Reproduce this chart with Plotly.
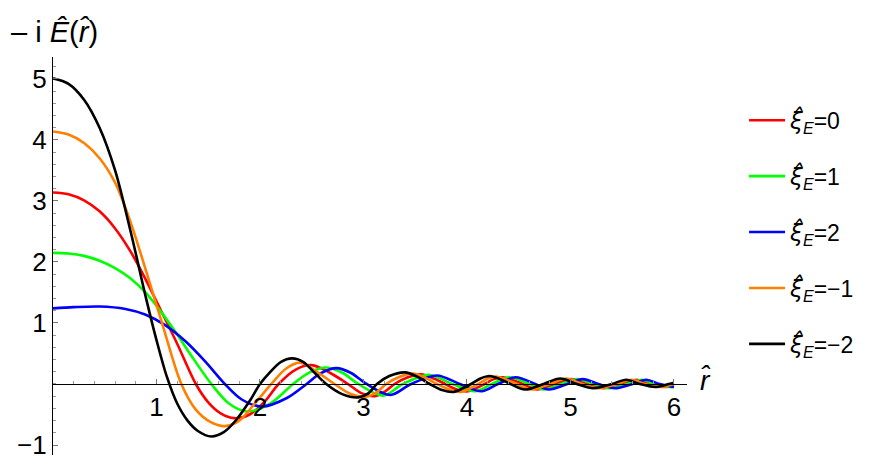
import numpy as np
import plotly.graph_objects as go

# ---- data ----
r_red = [0, 0.15, 0.3, 0.45, 0.6, 0.75, 0.9, 1.05, 1.2, 1.38, 1.5, 1.62, 1.75, 1.9, 2.05, 2.18,
         2.35, 2.5, 2.68, 2.85, 2.98, 3.11, 3.21, 3.30, 3.43, 3.56, 3.68, 3.79, 3.9, 4.01, 4.10, 4.17,
         4.26, 4.35, 4.45, 4.54, 4.68, 4.85, 5.01, 5.17, 5.32, 5.50, 5.64, 5.77, 5.91, 6.0]
v_red = [3.14, 3.11, 3.01, 2.83, 2.55, 2.17, 1.70, 1.18, 0.66, 0.0, -0.30, -0.48, -0.56, -0.50,
         -0.28, 0.0, 0.24, 0.31, 0.18, 0.0, -0.15, -0.20, -0.12, 0.0, 0.11, 0.16, 0.09, 0.0, -0.09, -0.12,
         -0.06, 0.0, 0.08, 0.11, 0.06, 0.0, -0.09, 0.0, 0.08, 0.0, -0.07, 0.0, 0.07, 0.0, -0.05, -0.03]

r_green = [0, 0.15, 0.3, 0.45, 0.6, 0.75, 0.9, 1.05, 1.2, 1.35, 1.53, 1.7, 1.87, 2.1,
           2.32, 2.48, 2.64, 2.8, 2.95, 3.19, 3.38, 3.63, 3.86, 4.08, 4.24, 4.41, 4.60, 4.74, 4.91,
           5.07, 5.22, 5.38, 5.55, 5.69, 5.81, 5.96, 6.0]
v_green = [2.15, 2.14, 2.10, 2.02, 1.90, 1.73, 1.49, 1.17, 0.81, 0.43, 0.0, -0.32,
           -0.45, -0.32, 0.0, 0.19, 0.27, 0.18, 0.0, -0.19, 0.0, 0.15, 0.0, -0.12, 0.0, 0.11, 0.0,
           -0.09, 0.0, 0.08, 0.0, -0.07, 0.0, 0.07, 0.0, -0.05, -0.05]

r_blue = [0, 0.2, 0.45, 0.7, 0.89, 1.08, 1.28, 1.47, 1.66, 1.82, 2.02, 2.26, 2.45, 2.58, 2.74, 2.88,
          3.03, 3.26, 3.46, 3.71, 3.93, 4.14, 4.30, 4.47, 4.66, 4.79, 4.97, 5.12, 5.27, 5.43, 5.60,
          5.73, 5.86, 6.0]
v_blue = [1.24, 1.26, 1.27, 1.23, 1.14, 0.97, 0.70, 0.37, 0.0, -0.25, -0.37, -0.23, 0.0, 0.17, 0.26,
          0.18, 0.0, -0.18, 0.0, 0.14, 0.0, -0.12, 0.0, 0.11, 0.0, -0.09, 0.0, 0.08, 0.0, -0.07, 0.0,
          0.07, 0.0, -0.05]

r_orange = [0, 0.15, 0.3, 0.45, 0.6, 0.75, 0.9, 1.05, 1.24, 1.38, 1.52, 1.66, 1.8, 1.95,
            2.11, 2.25, 2.39, 2.55, 2.72, 2.87, 3.03, 3.13, 3.22, 3.35, 3.48, 3.6, 3.71, 3.83, 3.94,
            4.03, 4.11, 4.20, 4.28, 4.38, 4.48, 4.62, 4.80, 4.96, 5.11, 5.27, 5.45, 5.59, 5.72, 5.87, 6.0]
v_orange = [4.14, 4.09, 3.95, 3.70, 3.30, 2.65, 1.85, 1.02, 0.0, -0.42, -0.62, -0.69,
            -0.60, -0.32, 0.0, 0.25, 0.35, 0.20, 0.0, -0.16, -0.21, -0.13, 0.0, 0.12, 0.17, 0.10, 0.0,
            -0.09, -0.13, -0.07, 0.0, 0.09, 0.12, 0.07, 0.0, -0.09, 0.0, 0.09, 0.0, -0.07, 0.0, 0.07,
            0.0, -0.05, 0.0]

r_black = [0, 0.15, 0.3, 0.45, 0.6, 0.75, 0.9, 1.0, 1.1, 1.2, 1.3, 1.4, 1.53, 1.65, 1.77,
           1.9, 2.0, 2.1, 2.2, 2.31, 2.42, 2.53, 2.64, 2.8, 2.95, 3.05, 3.13, 3.25, 3.40, 3.52, 3.64,
           3.76, 3.87, 3.96, 4.04, 4.13, 4.22, 4.32, 4.42, 4.56, 4.74, 4.90, 5.06, 5.22, 5.40, 5.54,
           5.67, 5.82, 5.95, 6.0]
v_black = [5.01, 4.92, 4.66, 4.20, 3.50, 2.50, 1.40, 0.72, 0.12, -0.32, -0.60, -0.77, -0.86,
           -0.79, -0.59, -0.28, 0.0, 0.20, 0.36, 0.42, 0.36, 0.18, 0.0, -0.17, -0.22, -0.15, 0.0, 0.13,
           0.19, 0.12, 0.0, -0.10, -0.13, -0.07, 0.0, 0.09, 0.13, 0.08, 0.0, -0.09, 0.0, 0.09, 0.0,
           -0.07, 0.0, 0.07, 0.0, -0.05, 0.0, 0.02]

XI = "<span style=\"font-family:'DejaVu Sans'\"><i>ξ̂</i></span><sub><i>E</i></sub>"
series_names = [XI + "=0", XI + "=1", XI + "=2", XI + "=−1", XI + "=−2"]
series_r = [r_red, r_green, r_blue, r_orange, r_black]
series_v = [v_red, v_green, v_blue, v_orange, v_black]
series_colors = ["#FF0000", "#00FF00", "#0000FF", "#FF8000", "#000000"]

x_ticks = [1, 2, 3, 4, 5, 6]
x_ticklabels = ["1", "2", "3", "4", "5", "6"]
y_ticks = [-1, 1, 2, 3, 4, 5]
y_ticklabels = ["−1", "1", "2", "3", "4", "5"]

X_RANGE = [0, 6.126]
Y_RANGE = [-1.164, 5.36]

FONT = "Liberation Sans, Arial, sans-serif"

fig = go.Figure()
for i, (name, rr, vv, col) in enumerate(zip(series_names, series_r, series_v, series_colors)):
    fig.add_trace(go.Scatter(
        x=rr, y=vv, mode="lines", name=name,
        line=dict(color=col, width=2.6, shape="spline", smoothing=0.9),
        legendgroup="g%d" % i, hoverinfo="skip"))

xpos = (0 - Y_RANGE[0]) / (Y_RANGE[1] - Y_RANGE[0])

# the page adds an 8px body margin, so the figure is 8px smaller than the window
fig.update_layout(
    width=876, height=456,
    margin=dict(l=45, r=197, t=49, b=9, autoexpand=False),
    paper_bgcolor="white", plot_bgcolor="white",
    font=dict(family=FONT, color="black"),
    showlegend=True,
    legend=dict(
        x=1.09, y=0.895, xanchor="left", yanchor="top",
        font=dict(size=23, family=FONT),
        tracegroupgap=23, traceorder="grouped",
        bgcolor="rgba(0,0,0,0)", itemwidth=36),
    xaxis=dict(
        range=X_RANGE, anchor="free", position=xpos, automargin=False,
        showgrid=False, zeroline=False,
        showline=True, linecolor="black", linewidth=1.3,
        tickmode="array", tickvals=x_ticks, ticktext=x_ticklabels,
        ticks="inside", ticklen=5, tickwidth=1, tickcolor="#777777",
        tickfont=dict(size=26, family=FONT),
        minor=dict(tickmode="array", tickvals=list(np.round(np.arange(0.2, 6.1, 0.2), 2)),
                   ticks="inside", ticklen=3, tickwidth=1, tickcolor="#999999", showgrid=False),
    ),
    yaxis=dict(
        range=Y_RANGE, automargin=False,
        showgrid=False, zeroline=False,
        showline=True, linecolor="black", linewidth=1.3,
        tickmode="array", tickvals=y_ticks, ticktext=y_ticklabels,
        ticks="inside", ticklen=5, tickwidth=1, tickcolor="#777777",
        tickfont=dict(size=26, family=FONT),
        minor=dict(tickmode="array", tickvals=list(np.round(np.arange(-1.0, 5.31, 0.2), 2)),
                   ticks="inside", ticklen=3, tickwidth=1, tickcolor="#999999", showgrid=False),
    ),
)

fig.add_annotation(
    text="– i <i>Ê</i>(<i>r̂</i>)", xref="paper", yref="paper",
    x=-44 / 634, y=(455 - 32) / 398, xanchor="left", yanchor="middle",
    showarrow=False, font=dict(size=29, family=FONT, color="black"))
fig.add_annotation(
    text="<i>r̂</i>", xref="paper", yref="paper",
    x=(698 - 53) / 634, y=(455 - 380) / 398, xanchor="left", yanchor="middle",
    showarrow=False, font=dict(size=28, family=FONT, color="black"))

fig.write_html("out.html")
